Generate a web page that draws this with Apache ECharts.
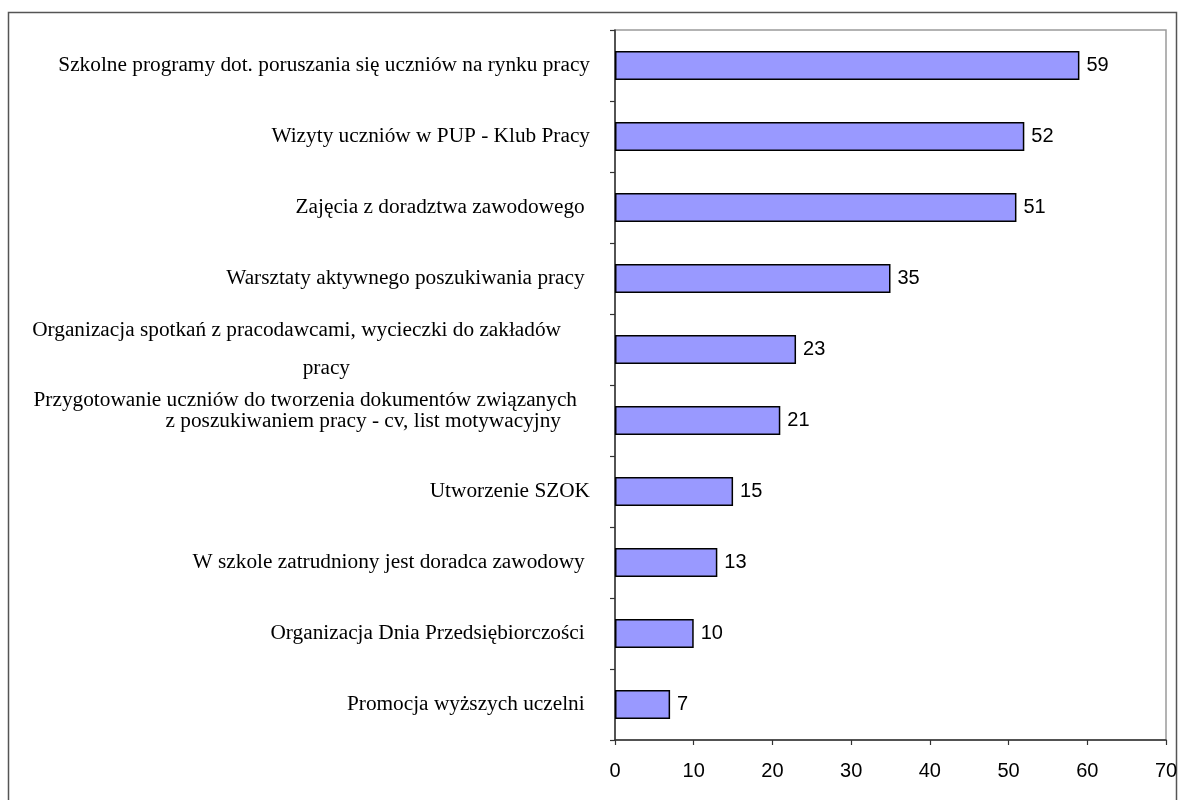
<!DOCTYPE html>
<html>
<head>
<meta charset="utf-8">
<script src="https://cdn.jsdelivr.net/npm/echarts@6/dist/echarts.min.js"></script>
<style>
html,body{margin:0;padding:0;background:#fff;}
#chart{width:1184px;height:800px;}
</style>
</head>
<body>
<div id="chart"></div>
<script>
// Categories, top to bottom
const categories = [
  "Szkolne programy dot. poruszania się uczniów na rynku pracy",
  "Wizyty uczniów w PUP - Klub Pracy",
  "Zajęcia z doradztwa zawodowego ",
  "Warsztaty aktywnego poszukiwania pracy ",
  "Organizacja spotkań z pracodawcami, wycieczki do zakładów\npracy",
  "Przygotowanie uczniów do tworzenia dokumentów związanych\nz poszukiwaniem pracy - cv, list motywacyjny",
  "Utworzenie SZOK",
  "W szkole zatrudniony jest doradca zawodowy ",
  "Organizacja Dnia Przedsiębiorczości ",
  "Promocja wyższych uczelni "
];
const values = [59, 52, 51, 35, 23, 21, 15, 13, 10, 7];
const xTicks = { min: 0, max: 70, interval: 10 };

const chart = echarts.init(document.getElementById('chart'), null, { renderer: 'canvas' });

function catLabel(v, i) {
  if (i === 4) {
    const parts = v.split('\n');
    return '{a|' + parts[0] + '}\n{b|' + parts[1] + '}';
  }
  if (i === 5) {
    const parts = v.split('\n');
    return '{c|' + parts[0] + '}\n{d|' + parts[1] + '}\n{e| }';
  }
  return '{n|' + v + '}';
}

const serif = '"Liberation Serif", "Times New Roman", serif';
const sans = '"Liberation Sans", Arial, sans-serif';
const fs = 21.3;

chart.setOption({
  animation: false,
  backgroundColor: '#ffffff',
  graphic: [{
    type: 'rect',
    shape: { x: 8.5, y: 12.5, width: 1168, height: 800 },
    style: { fill: 'none', stroke: '#555', lineWidth: 1.5 },
    silent: true
  }],
  grid: {
    left: 615, top: 30, right: 18, bottom: 60,
    show: true, borderColor: '#9a9a9a', borderWidth: 1.5, backgroundColor: 'transparent'
  },
  xAxis: {
    type: 'value',
    min: xTicks.min, max: xTicks.max, interval: xTicks.interval,
    splitLine: { show: false },
    axisLine: { show: true, lineStyle: { color: '#333', width: 1.5 } },
    axisTick: { show: true, length: 5, lineStyle: { color: '#333', width: 1.2 } },
    axisLabel: { color: '#000', fontFamily: sans, fontSize: 20, margin: 21 }
  },
  yAxis: {
    type: 'category',
    inverse: true,
    data: categories,
    axisLine: { show: true, lineStyle: { color: '#333', width: 1.5 } },
    axisTick: { show: true, length: 5, alignWithLabel: false, lineStyle: { color: '#333', width: 1.2 } },
    axisLabel: {
      margin: 25,
      interval: 0,
      formatter: catLabel,
      rich: {
        n: { fontFamily: serif, fontSize: fs, color: '#000' },
        a: { fontFamily: serif, fontSize: fs, color: '#000', lineHeight: 38, padding: [0, 29, 0, 0] },
        b: { fontFamily: serif, fontSize: fs, color: '#000', lineHeight: 38, padding: [0, 240, 0, 0] },
        c: { fontFamily: serif, fontSize: fs, color: '#000', lineHeight: 21, padding: [0, 13, 0, 0] },
        d: { fontFamily: serif, fontSize: fs, color: '#000', lineHeight: 21, padding: [0, 29, 0, 0] },
        e: { fontFamily: serif, fontSize: 10, color: '#000', lineHeight: 20 }
      }
    }
  },
  series: [{
    type: 'bar',
    data: values,
    barWidth: 29,
    itemStyle: { color: '#9999ff', borderColor: '#000', borderWidth: 1.5 },
    label: {
      show: true, position: 'right', distance: 7,
      color: '#000', fontFamily: sans, fontSize: 20
    }
  }]
});
</script>
</body>
</html>
